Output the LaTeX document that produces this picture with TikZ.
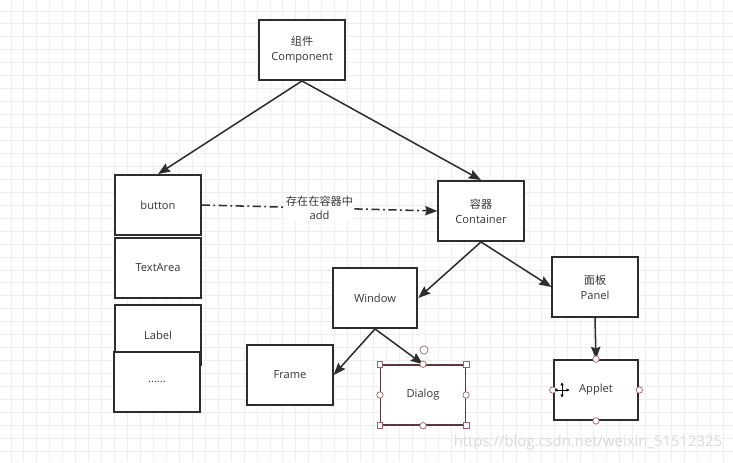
\documentclass[tikz,border=0pt]{standalone}
\usepackage{fontspec}
\setmainfont{Open Sans}
\newfontfamily\cjk{Noto Sans CJK SC}
\usetikzlibrary{arrows.meta}
\definecolor{txtgray}{RGB}{55,55,55}
\definecolor{boxline}{RGB}{45,45,45}
\definecolor{gridgray}{RGB}{238,238,238}
\definecolor{selline}{RGB}{90,55,60}
\definecolor{handle}{RGB}{165,95,110}
\definecolor{wmark}{RGB}{218,218,218}

\begin{document}
\begin{tikzpicture}[x=0.03cm,y=-0.03cm,
    box/.style={draw=boxline,line width=1.6pt,fill=white,minimum width=2.56cm,
      minimum height=1.8cm,align=center,text=txtgray,font=\fontsize{9.5}{13}\selectfont,inner sep=0pt},
    link/.style={draw=boxline,line width=1.3pt,-{Stealth[length=10.5pt,width=8pt,inset=1.5pt]}},
    sqhandle/.style={draw=handle,fill=white,line width=0.6pt,minimum size=5pt,inner sep=0pt},
    ochandle/.style={circle,draw=handle,fill=white,line width=0.6pt,minimum size=5.5pt,inner sep=0pt}]
  \useasboundingbox[fill=white] (0,0) rectangle (733,462);
  % grid
  \foreach \i in {0,...,56}
    \draw[gridgray,line width=0.8pt] (11+\i*12.95,0) -- ++(0,462);
  \foreach \i in {0,...,35}
    \draw[gridgray,line width=0.8pt] (0,11+\i*12.95) -- ++(733,0);

  \node at (302,50) [box] (comp) {{\cjk 组件}\\Component};
  \node at (158,205) [box] (button) {button};
  \node at (158,268) [box] (textarea) {TextArea};
  \node at (158,335) [box] (label) {Label};
  \node at (157,382) [box] (dots) {......};
  \node at (481,211) [box] (cont) {{\cjk 容器}\\Container};
  \node at (375,298) [box,minimum width=2.54cm] (window) {Window};
  \node at (595,287) [box] (panel) {{\cjk 面板}\\Panel};
  \node at (290,375) [box] (frame) {Frame};
  \node at (423,395) [box,draw=selline,line width=1.3pt,minimum width=2.54cm] (dialog) {Dialog};
  \node at (596,390) [box,minimum width=2.54cm] (applet) {Applet};

  \draw[link] (comp.south) -- (button.north);
  \draw[link] (comp.south) -- (cont.north);
  \draw[link,dash pattern=on 7pt off 3pt on 1.5pt off 3pt] (button.east) -- (cont.west)
    node[pos=0.5,fill=white,inner sep=1pt,align=center,text=txtgray,
      font=\fontsize{9.5}{12}\selectfont] (addlbl) {{\cjk 存在在容器中}\\add};
  \draw[link] (cont.south) -- (window.east);
  \draw[link] (cont.south) -- (panel.west);
  \draw[link] (window.south) -- (frame.east);
  \draw[link] (window.south) -- (dialog.north);
  \draw[link] (panel.south) -- (applet.north);

  % selection handles
  \foreach \c in {north west,north east,south west,south east}
    \node[sqhandle] at (dialog.\c) {};
  \foreach \c in {north,south,east,west}
    \node[ochandle] at (dialog.\c) {};
  \node[ochandle,minimum size=7pt] at (424,350) (rot) {};
  \foreach \c in {north,south,east,west}
    \node[ochandle] at (applet.\c) {};
  \coordinate (move) at (562,390);
  \draw[black,line width=0.7pt,{Latex[length=2.5pt,width=3pt]}-{Latex[length=2.5pt,width=3pt]}]
    ([xshift=-6.5]move) -- ([xshift=6.5]move);
  \draw[black,line width=0.7pt,{Latex[length=2.5pt,width=3pt]}-{Latex[length=2.5pt,width=3pt]}]
    ([yshift=-6.5]move) -- ([yshift=6.5]move);

  \node at (588,443) [text=wmark,font=\fontsize{12.7}{14}\selectfont] (wm) {https://blog.csdn.net/weixin\_51512325};
\end{tikzpicture}
\end{document}
